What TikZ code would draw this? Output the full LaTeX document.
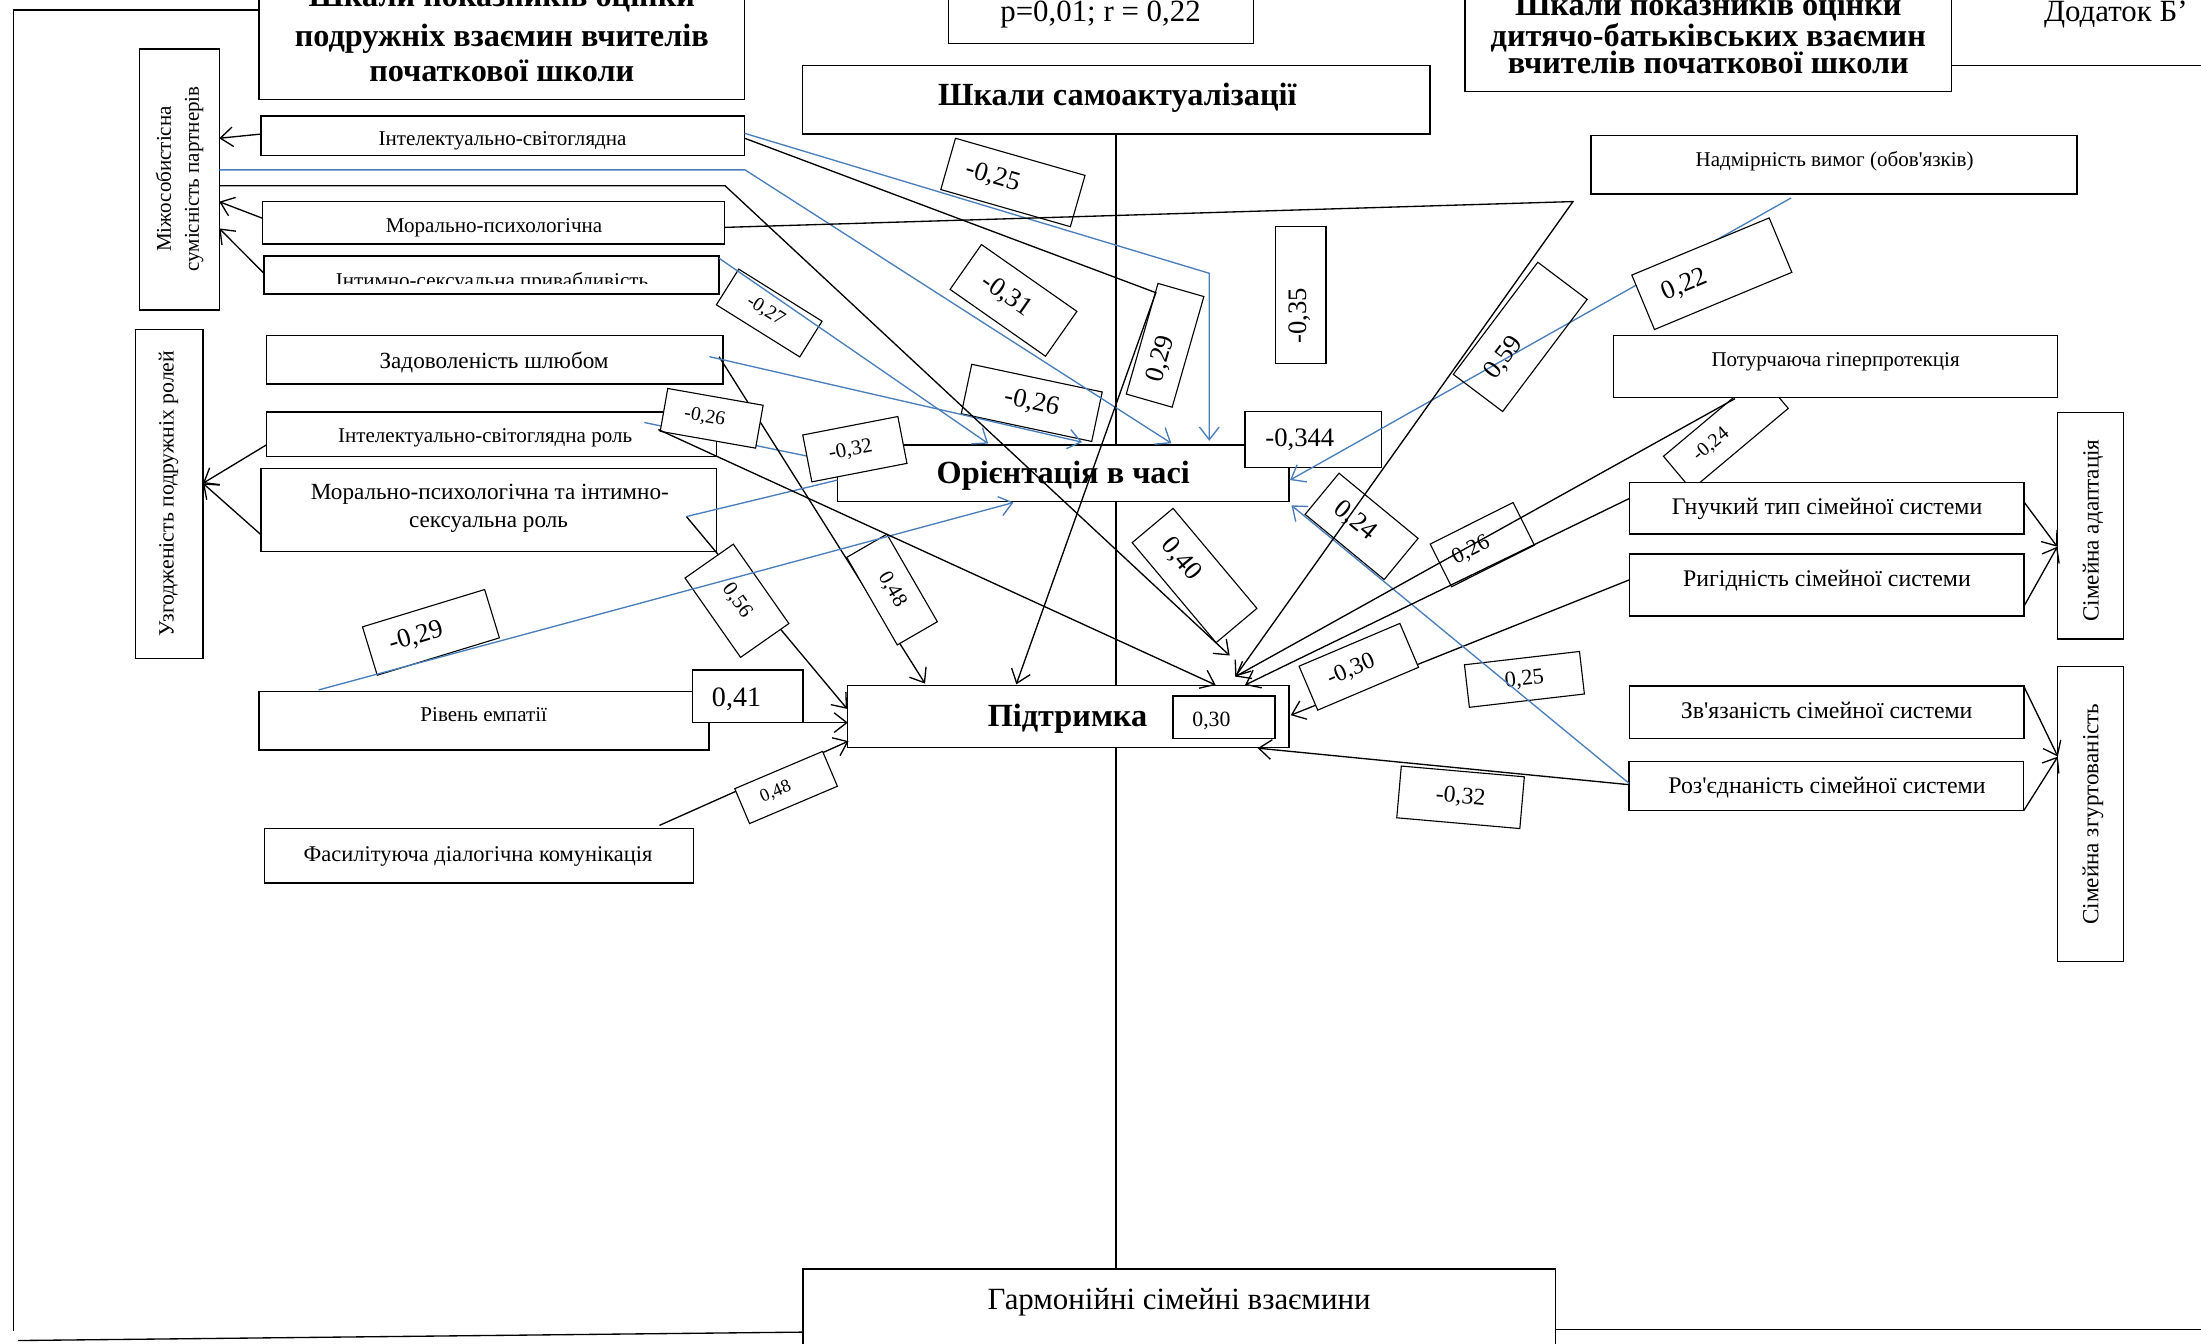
\documentclass[tikz,border=0pt]{standalone}
\usepackage{fontspec}
\setmainfont{Liberation Serif}
\usetikzlibrary{arrows.meta,calc}
\definecolor{wblue}{RGB}{74,126,187}
\newcommand\fsz[1]{\fontsize{#1pt}{\dimexpr #1pt*6/5\relax}\selectfont}
\newcommand\mkbox[5]{\node[box, minimum width={(#4)-(#2)}, minimum height={(#5)-(#3)}] (#1) at ({((#2)+(#4))/2},{((#3)+(#5))/2}) {};}
\newcommand\mklbl[8]{\node[lbl, minimum width=#4, minimum height=#5, rotate=#6, font=\fsz{#7}] (#1) at (#2,#3) {#8};}
\begin{document}
\begin{tikzpicture}[x=1pt,y=-1pt,
  box/.style={draw,line width=0.9pt,fill=white,inner sep=0pt,outer sep=0pt},
  lbl/.style={draw,line width=0.8pt,fill=white,inner sep=0pt,outer sep=0pt},
  txt/.style={anchor=base,inner sep=0pt},
  ln/.style={line width=0.95pt},
  bl/.style={line width=0.95pt,draw=wblue},
  ar/.style={-{Straight Barb[length=9pt,width=14pt]}}]
\useasboundingbox (0,0) rectangle (1568,957);

% frame and axis
\coordinate (ftl) at (9.8,7.1);
\coordinate (fbl) at (9.8,948);
\coordinate (fbs) at (13,955);
\coordinate (fre) at (1568,947);
\coordinate (fte) at (1568,46.8);
\coordinate (ctop) at (795,95.5);
\coordinate (cbot) at (795,904);
\draw[ln] (ctop) -- (cbot);

% partly hidden label
\node[lbl, minimum width=90, minimum height=31, rotate=40] (lm024) at (1229.5,308) {};
\node[rotate=40, font=\fsz{14}, inner sep=0pt] (lm024t) at (1219,317) {-0,24};

% boxes
\mkbox{A}{184.6}{-60}{530.5}{70.8}
\mkbox{B}{675.7}{-60}{893}{30.9}
\mkbox{C}{571.8}{46.8}{1018.8}{95.5}
\mkbox{D}{1043.7}{-60}{1390}{65.3}
\mkbox{E}{99.6}{34.9}{156.2}{220.8}
\mkbox{F}{186}{82.6}{530.5}{111}
\mkbox{G}{187}{143.7}{516}{173.8}
\mkbox{H}{188}{182.4}{512.3}{209.4}
\mkbox{I}{96.3}{235}{144.6}{469}
\mkbox{J}{189.7}{239}{515}{273.5}
\mkbox{K}{189.7}{293.6}{510.5}{325}
\mkbox{L}{186}{333.6}{510.5}{393}
\mkbox{M}{184.5}{492.7}{505}{534.3}
\mkbox{N}{493.4}{477.3}{572}{514.8}
\mkbox{O}{188.4}{590}{493.8}{629}
\mkbox{P}{596.6}{317}{918.3}{357.4}
\mkbox{Q}{887}{293.3}{984}{333.2}
\mkbox{R}{604}{488.5}{918.3}{532.6}
\mkbox{S}{835.6}{495.8}{908.3}{526}
\mkbox{T}{572}{904}{1108}{1010}
\mkbox{U}{1133.5}{96.7}{1479.7}{138.2}
\mkbox{V}{1149.7}{239}{1465.8}{283}
\mkbox{W}{1161}{343.6}{1441.8}{380.4}
\mkbox{X}{1161}{394.7}{1441.8}{438.8}
\mkbox{Y}{1161}{488.7}{1441.8}{526}
\mkbox{Z}{1160.5}{542.6}{1441.7}{577.5}
\mkbox{AA}{1465.6}{293.7}{1513}{455.2}
\mkbox{AB}{1466}{475}{1513}{685}
\mkbox{AC}{908.4}{161.5}{944.7}{259}

\draw[ln] (A.west |- ftl) -- (ftl) -- (fbl);
\draw[ln] (fbs) -- (T.west |- 0,949);
\draw[ln] (T.east |- fre) -- (fre);
\draw[ln] (D.east |- fte) -- (fte);

% texts
\node[txt, font=\bfseries\fsz{23}] (A1) at (357.5,4.7) {Шкали показників оцінки};
\node[txt, font=\bfseries\fsz{23}] (A2) at (357.5,33.2) {подружніх взаємин вчителів};
\node[txt, font=\bfseries\fsz{23}] (A3) at (357.5,58.2) {початкової школи};
\node[txt, font=\fsz{22}] (Bt) at (784,15.5) {p=0,01; r = 0,22};
\node[txt, font=\bfseries\fsz{23}] (Ct) at (796,75.5) {Шкали самоактуалізації};
\node[txt, font=\bfseries\fsz{23}] (D1) at (1217,11.4) {Шкали показників оцінки};
\node[txt, font=\bfseries\fsz{23}] (D2) at (1217,33.2) {дитячо-батьківських взаємин};
\node[txt, font=\bfseries\fsz{23}] (D3) at (1217,52.7) {вчителів початкової школи};
\node[txt, anchor=base west, font=\fsz{22}] (Dod) at (1456,15.4) {Додаток Б'};
\node[rotate=90, inner sep=0pt, align=center, font={\fontsize{15pt}{20pt}\selectfont}] (Et) at (128,127.5) {Міжособистісна\\сумісність партнерів};
\node[txt, font=\fsz{15}] (Ft) at (358,104) {Інтелектуально-світоглядна};
\node[txt, font=\fsz{15}] (Gt) at (352,165.5) {Морально-психологічна};
\begin{scope}
\clip (188,182.4) rectangle (512.3,202);
\node[txt, font=\fsz{15}] (Ht) at (350.5,205) {Інтимно-сексуальна привабливість};
\end{scope}
\node[rotate=90, inner sep=0pt, font=\fsz{15.5}] (It) at (120,351.5) {Узгодженість подружніх ролей};
\node[txt, font=\fsz{16.5}] (Jt) at (352,262.4) {Задоволеність шлюбом};
\node[txt, font=\fsz{15}] (Kt) at (345.6,315.4) {Інтелектуально-світоглядна роль};
\node[txt, font=\fsz{16.5}] (L1) at (349,356) {Морально-психологічна та інтимно-};
\node[txt, font=\fsz{16.5}] (L2) at (348,375.5) {сексуальна роль};
\node[txt, font=\fsz{15}] (Mt) at (344.6,514) {Рівень емпатії};
\node[txt, anchor=base west, font=\fsz{20}] (Nt) at (507,503.4) {0,41};
\node[txt, font=\fsz{16}] (Ot) at (340.6,614) {Фасилітуюча діалогічна комунікація};
\node[txt, font=\bfseries\fsz{23}] (Pt) at (757.5,344.3) {Орієнтація в часі};
\node[txt, font=\fsz{19}] (Qt) at (926,318.2) {-0,344};
\node[txt, font=\bfseries\fsz{23}] (Rt) at (760.5,517.7) {Підтримка};
\node[txt, font=\fsz{15.5}] (St) at (863,517.7) {0,30};
\node[txt, font=\fsz{22}] (Tt) at (840,933) {Гармонійні сімейні взаємини};
\node[txt, font=\fsz{15}] (Ut) at (1307,118.7) {Надмірність вимог (обов\textquotesingle язків)};
\node[txt, font=\fsz{15}] (Vt) at (1307.7,261.2) {Потурчаюча гіперпротекція};
\node[txt, font=\fsz{17}] (Wt) at (1301.6,366.2) {Гнучкий тип сімейної системи};
\node[txt, font=\fsz{17}] (Xt) at (1301.5,418) {Ригідність сімейної системи};
\node[txt, font=\fsz{17}] (Yt) at (1301.3,511.7) {Зв\textquotesingle язаність сімейної системи};
\node[txt, font=\fsz{17}] (Zt) at (1301.5,565.2) {Роз\textquotesingle єднаність сімейної системи};
\node[rotate=90, inner sep=0pt, font=\fsz{16.5}] (AAt) at (1491,378) {Сімейна адаптація};
\node[rotate=90, inner sep=0pt, font=\fsz{16.5}] (ABt) at (1491,580) {Сімейна згуртованість};
\node[rotate=90, inner sep=0pt, font=\fsz{19}] (ACt) at (926,225) {-0,35};

% connector coordinates
\coordinate (b1m) at (861.5,194.7);
\coordinate (b1e) at (861.5,314);
\coordinate (b2m) at (530.7,121);
\coordinate (b2e) at (834.5,315.8);
\coordinate (b3e) at (704,316);
\coordinate (b4s) at (505.4,254.1);
\coordinate (b4e) at (770.8,315);
\coordinate (b5s) at (459,301);
\coordinate (b5e) at (575.3,325);
\coordinate (b6s) at (489,368);
\coordinate (b7s) at (227,491.5);
\coordinate (b7e) at (722,358);
\coordinate (b8s) at (1276,141);
\coordinate (b8e) at (919,342);
\coordinate (b9e) at (920,360);
\coordinate (k1m) at (823.4,208.5);
\coordinate (k1e) at (724,487.5);
\coordinate (k2m) at (516.5,132.3);
\coordinate (k2e) at (876,467);
\coordinate (k3m) at (1120.6,143.6);
\coordinate (k3e) at (880,482);
\coordinate (k4s) at (512.3,254.1);
\coordinate (k4e) at (659,487);
\coordinate (k5s) at (469,306);
\coordinate (k5e) at (866,488);
\coordinate (k6e) at (603.5,505);
\coordinate (k8s) at (469.8,588);
\coordinate (k8e) at (604.5,528);
\coordinate (k9s) at (1236,284);
\coordinate (k9e) at (880,482);
\coordinate (k10e) at (887,488);
\coordinate (k11e) at (919.5,509.5);
\coordinate (k12e) at (896,533);

% connectors that pass under labels
\draw[bl] (b5s) -- (b5e);
\draw[ln,ar] (b6s) -- (k6e);
\draw[ln,ar] (k4s) -- (k4e);
\draw[ln,ar] (k8s) -- (k8e);
\draw[bl,ar] (b8s) -- (b8e);
\draw[ln,ar] (X.west |- 0,413) -- (k11e);

% labels
\mklbl{lm025}{721.6}{130}{96}{38}{-16}{19}{-0,25\hspace*{30pt}}
\mklbl{lm031}{722}{214}{83}{39}{-35}{19}{-0,31\hspace*{12pt}}
\mklbl{l029}{830}{246}{82}{34}{74}{19}{0,29\hspace*{20pt}}
\mklbl{lm027}{548}{223}{70}{30}{-32}{14}{-0,27\hspace*{6pt}}
\mklbl{lm026a}{735}{287}{95}{36}{-12}{19}{-0,26}
\mklbl{lm026b}{507}{298}{69}{31}{-10}{14}{-0,26\hspace*{10pt}}
\mklbl{lm032a}{609}{320}{69}{34}{11}{15}{-0,32\hspace*{6pt}}
\mklbl{l056}{525}{428}{69}{42}{-55}{15}{0,56}
\mklbl{l048a}{635.5}{420}{72}{33}{-60}{15}{0,48}
\mklbl{lm029}{307}{450.5}{91}{36}{17}{19}{-0,29\hspace*{22pt}}
\mklbl{l048b}{560}{561}{68}{27}{23}{13}{0,48\hspace*{16pt}}
\mklbl{l040}{851}{410}{93}{38}{-50}{19}{0,40\hspace*{30pt}}
\mklbl{l024}{970}{375}{73}{38}{-39.5}{19}{0,24\hspace*{12pt}}
\node[lbl, fill=none, minimum width=100, minimum height=44, rotate=53, font=\fsz{19}] (l059) at (1083,240) {0,59\hspace*{38pt}};
\mklbl{l022}{1219.5}{195}{106}{42}{22.6}{19}{0,22\hspace*{42pt}}
\mklbl{l026}{1056}{388}{66}{34}{26.6}{16}{0,26\hspace*{18pt}}
\mklbl{lm030}{968}{475}{78}{34}{23}{17}{-0,30\hspace*{12pt}}
\mklbl{l025}{1086}{484}{82.5}{30.5}{6.6}{16}{0,25}
\mklbl{lm032b}{1040.5}{568}{88}{37}{-5}{17}{-0,32}

% connectors on top
\draw[ln,ar] (F.west |- 0,95.5) -- (E.east |- 0,98.5);
\draw[ln,ar] (G.west |- 0,155.5) -- (E.east |- 0,143.7);
\draw[ln,ar] (H.west |- 0,194.7) -- (E.east |- 0,162.7);
\draw[ln,ar] (K.west |- 0,317) -- (I.east |- 0,344.3);
\draw[ln,ar] (L.west |- 0,381) -- (I.east |- 0,344.3);
\draw[ln,ar] (W.east |- 0,357.5) -- (AA.west |- 0,389.5);
\draw[ln,ar] (X.east |- 0,432) -- (AA.west |- 0,389.5);
\draw[ln,ar] (Y.east |- 0,489) -- (AB.west |- 0,539);
\draw[ln,ar] (Z.east |- 0,577.5) -- (AB.west |- 0,539);

\draw[bl,ar] (F.east |- 0,95) -- (b1m) -- (b1e);
\draw[bl,ar] (E.east |- 0,121) -- (b2m) -- (b2e);
\draw[bl,ar] (H.east |- 0,184) -- (b3e);
\draw[bl,ar] (b4s) -- (b4e);
\draw[bl] (b6s) -- (P.west |- 0,342);
\draw[bl,ar] (b7s) -- (b7e);
\draw[bl,ar] (Z.west |- 0,558) -- (b9e);

\draw[ln,ar] (F.east |- 0,98.5) -- (k1m) -- (k1e);
\draw[ln,ar] (E.east |- 0,132.3) -- (k2m) -- (k2e);
\draw[ln,ar] (G.east |- 0,162) -- (k3m) -- (k3e);
\draw[ln,ar] (k5s) -- (k5e);
\draw[ln,ar] (N.south east) -- (R.west |- N.south east);
\draw[ln,ar] (k9s) -- (k9e);
\draw[ln,ar] (W.west |- 0,355) -- (k10e);
\draw[ln,ar] (Z.west |- 0,559) -- (k12e);
\end{tikzpicture}
\end{document}
